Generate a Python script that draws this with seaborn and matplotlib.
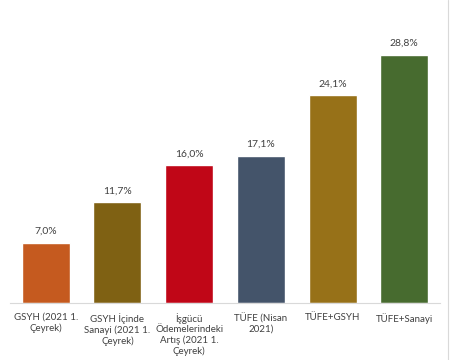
import matplotlib
matplotlib.use('Agg')
import matplotlib.pyplot as plt
import seaborn as sns
import pandas as pd

categories = ['GSYH (2021 1.\nÇeyrek)', 'GSYH İçinde\nSanayi (2021 1.\nÇeyrek)',
              'İşgücü\nÖdemelerindeki\nArtış (2021 1.\nÇeyrek)', 'TÜFE (Nisan\n2021)',
              'TÜFE+GSYH', 'TÜFE+Sanayi']
values = [7.0, 11.7, 16.0, 17.1, 24.1, 28.8]
colors = ['#C55A1F', '#7F6113', '#C00617', '#44546A', '#977118', '#476B2F']

sns.set_style('white')
plt.rcParams['font.family'] = ['Lato', 'DejaVu Sans']

df = pd.DataFrame({'cat': categories, 'val': values})

fig = plt.figure(figsize=(4.5, 3.6), dpi=100)
ax = fig.add_axes([0.022, 0.158, 0.956, 0.814])
sns.barplot(data=df, x='cat', y='val', hue='cat', palette=colors, legend=False,
            width=0.67, saturation=1, ax=ax)

for i, v in enumerate(values):
    ax.text(i, v + 0.8, f'{v:.1f}%'.replace('.', ','), ha='center', va='bottom',
            fontsize=7.5, color='#404040')

ax.set_ylim(0, 34)
ax.set_xlim(-0.5, 5.5)
ax.set_yticks([])
ax.set_xlabel('')
ax.set_ylabel('')
ax.tick_params(axis='x', length=0, labelsize=7, labelcolor='#404040', pad=7)
for s in ['top', 'right', 'left']:
    ax.spines[s].set_visible(False)
ax.spines['bottom'].set_color('#D9D9D9')
ax.spines['bottom'].set_linewidth(0.8)

fig.add_artist(plt.Line2D([448 / 450, 448 / 450], [0, 1], color='#D9D9D9', lw=0.8))

fig.savefig('out.png', dpi=100)
